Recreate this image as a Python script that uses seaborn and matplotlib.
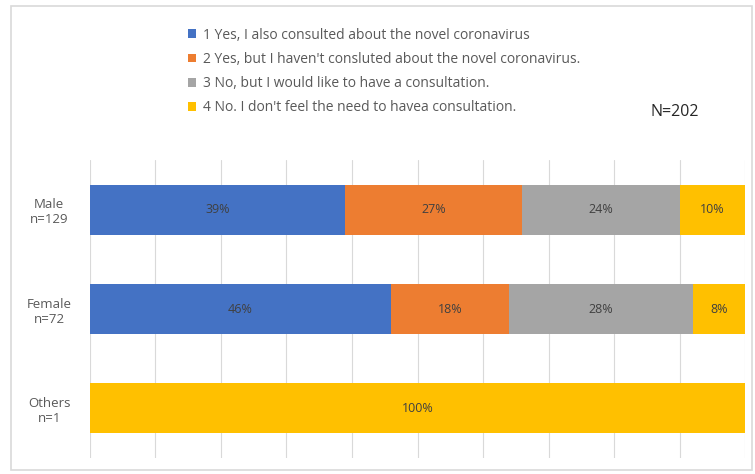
import matplotlib
matplotlib.use('Agg')
import matplotlib.pyplot as plt
import seaborn as sns
from matplotlib.patches import Patch, Rectangle

groups = ['Male\nn=129', 'Female\nn=72', 'Others\nn=1']
answers = [
    '1 Yes, I also consulted about the novel coronavirus',
    "2 Yes, but I haven't consluted about the novel coronavirus.",
    '3 No, but I would like to have a consultation.',
    "4 No. I don't feel the need to havea consultation.",
]
yes_consulted = [39, 46, 0]
yes_not_consulted = [27, 18, 0]
no_would_like = [24, 28, 0]
no_need = [10, 8, 100]
colors = ['#4472C4', '#ED7D31', '#A5A5A5', '#FFC000']


def main():
    sns.set_style('white')
    plt.rcParams['font.family'] = ['Open Sans', 'DejaVu Sans']

    fig = plt.figure(figsize=(7.55, 4.74), dpi=100)
    ax = fig.add_axes([0.119, 0.034, 0.868, 0.628])

    # outer chart border
    fig.add_artist(Rectangle((11 / 755, 4 / 474), 741 / 755, 464 / 474,
                             transform=fig.transFigure, fill=False,
                             edgecolor='#D9D9D9', linewidth=1.2))

    series = [yes_consulted, yes_not_consulted, no_would_like, no_need]
    left = [0, 0, 0]
    for vals, col in zip(series, colors):
        sns.barplot(x=vals, y=groups, orient='h', color=col, left=left,
                    width=0.5, ax=ax, saturation=1, linewidth=0, zorder=3)
        cont = ax.containers[-1]
        ax.bar_label(cont, labels=[f'{v}%' if v else '' for v in vals],
                     label_type='center', fontsize=9, color='#404040')
        left = [a + b for a, b in zip(left, vals)]

    ax.set_xlim(0, 100)
    ax.set_ylim(2.5, -0.5)
    ax.set_xticks(range(0, 101, 10))
    ax.set_xticklabels([])
    ax.grid(True, axis='x', color='#D9D9D9', linewidth=0.8, zorder=0)
    ax.grid(False, axis='y')
    ax.set_xlabel('')
    ax.set_ylabel('')
    for s in ax.spines.values():
        s.set_visible(False)
    ax.tick_params(axis='y', length=0, pad=8, labelsize=9.5, labelcolor='#595959')
    ax.tick_params(axis='x', length=0)
    for t in ax.get_yticklabels():
        t.set_horizontalalignment('center')
        t.set_x(-0.045)

    handles = [Patch(facecolor=c, edgecolor='none') for c in colors]
    fig.legend(handles, answers, loc='upper left', bbox_to_anchor=(0.232, 0.968),
               frameon=False, fontsize=10, labelcolor='#595959', handlelength=0.6,
               handleheight=0.6, handletextpad=0.5, labelspacing=0.66)
    fig.text(0.861, 0.763, 'N=202', fontsize=11.5, color='#262626', ha='left', va='center')

    fig.savefig('out.png', dpi=100)


if __name__ == '__main__':
    main()
